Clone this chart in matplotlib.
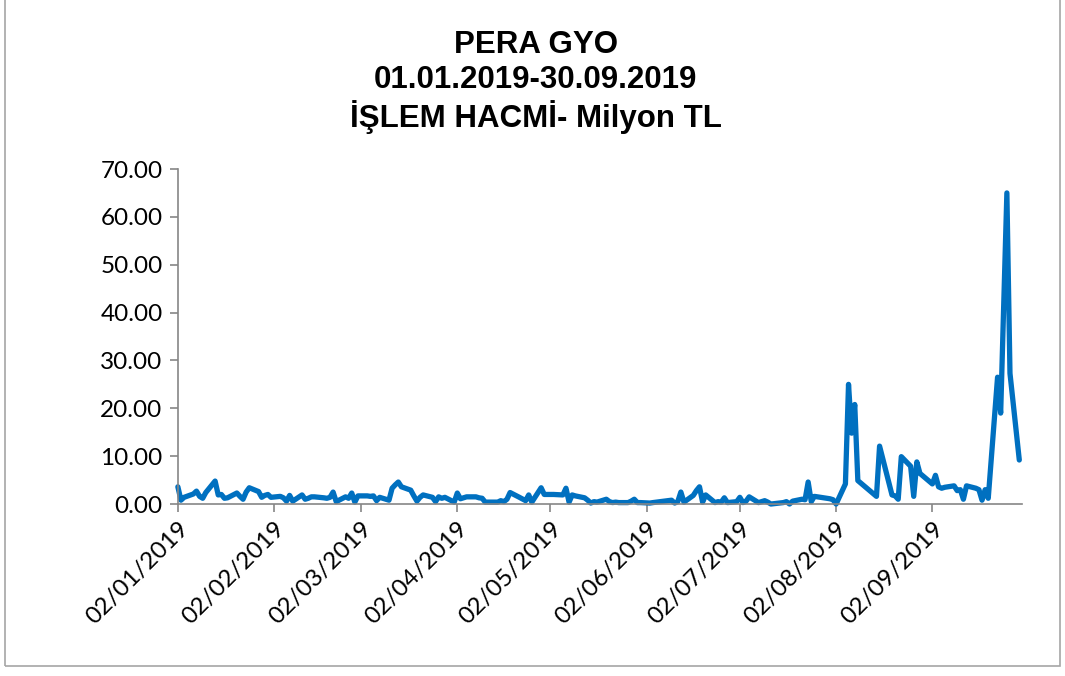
import pandas as pd
import matplotlib.pyplot as plt
import matplotlib.dates as mdates
from matplotlib.patches import Rectangle

# işlem günleri ve hacim (milyon TL)
dates = [
    "2019-01-02", "2019-01-03", "2019-01-04", "2019-01-07", "2019-01-08", "2019-01-09",
    "2019-01-10", "2019-01-11", "2019-01-14", "2019-01-15", "2019-01-16", "2019-01-17",
    "2019-01-18", "2019-01-21", "2019-01-22", "2019-01-23", "2019-01-24", "2019-01-25",
    "2019-01-28", "2019-01-29", "2019-01-30", "2019-01-31", "2019-02-01",
    "2019-02-04", "2019-02-05", "2019-02-06", "2019-02-07", "2019-02-08", "2019-02-11",
    "2019-02-12", "2019-02-13", "2019-02-14", "2019-02-15", "2019-02-18", "2019-02-19",
    "2019-02-20", "2019-02-21", "2019-02-22", "2019-02-25", "2019-02-26", "2019-02-27",
    "2019-02-28", "2019-03-01",
    "2019-03-04", "2019-03-05", "2019-03-06", "2019-03-07", "2019-03-08", "2019-03-11",
    "2019-03-12", "2019-03-13", "2019-03-14", "2019-03-15", "2019-03-18", "2019-03-19",
    "2019-03-20", "2019-03-21", "2019-03-22", "2019-03-25", "2019-03-26", "2019-03-27",
    "2019-03-28", "2019-03-29",
    "2019-04-01", "2019-04-02", "2019-04-03", "2019-04-04", "2019-04-05", "2019-04-08",
    "2019-04-09", "2019-04-10", "2019-04-11", "2019-04-12", "2019-04-15", "2019-04-16",
    "2019-04-17", "2019-04-18", "2019-04-19", "2019-04-22", "2019-04-24", "2019-04-25",
    "2019-04-26", "2019-04-29", "2019-04-30",
    "2019-05-02", "2019-05-03", "2019-05-06", "2019-05-07", "2019-05-08", "2019-05-09",
    "2019-05-10", "2019-05-13", "2019-05-14", "2019-05-15", "2019-05-16", "2019-05-17",
    "2019-05-20", "2019-05-21", "2019-05-22", "2019-05-23", "2019-05-24", "2019-05-27",
    "2019-05-28", "2019-05-29", "2019-05-30", "2019-05-31",
    "2019-06-03", "2019-06-04", "2019-06-10", "2019-06-11", "2019-06-12", "2019-06-13",
    "2019-06-14", "2019-06-17", "2019-06-18", "2019-06-19", "2019-06-20", "2019-06-21",
    "2019-06-24", "2019-06-25", "2019-06-26", "2019-06-27", "2019-06-28",
    "2019-07-01", "2019-07-02", "2019-07-03", "2019-07-04", "2019-07-05", "2019-07-08",
    "2019-07-09", "2019-07-10", "2019-07-11", "2019-07-12", "2019-07-16", "2019-07-17",
    "2019-07-18", "2019-07-19", "2019-07-22", "2019-07-23", "2019-07-24", "2019-07-25",
    "2019-07-26", "2019-07-29", "2019-07-30", "2019-07-31",
    "2019-08-01", "2019-08-02", "2019-08-05", "2019-08-06", "2019-08-07", "2019-08-08",
    "2019-08-09", "2019-08-15", "2019-08-16", "2019-08-19", "2019-08-20", "2019-08-21",
    "2019-08-22", "2019-08-23", "2019-08-26", "2019-08-27", "2019-08-28", "2019-08-29",
    "2019-09-02", "2019-09-03", "2019-09-04", "2019-09-05", "2019-09-06", "2019-09-09",
    "2019-09-10", "2019-09-11", "2019-09-12", "2019-09-13", "2019-09-16", "2019-09-17",
    "2019-09-18", "2019-09-19", "2019-09-20", "2019-09-23", "2019-09-24", "2019-09-26",
    "2019-09-27", "2019-09-30",
]
volume = [
    3.6, 0.8, 1.4, 2.1, 2.7, 1.6,
    1.2, 2.4, 4.8, 1.9, 2.0, 1.2,
    1.3, 2.3, 1.6, 1.0, 2.5, 3.4,
    2.6, 1.4, 1.8, 2.0, 1.4,
    1.6, 1.3, 0.6, 1.8, 0.6, 1.9,
    1.0, 1.2, 1.5, 1.5, 1.3, 1.2,
    1.4, 2.5, 0.5, 1.5, 1.2, 2.3,
    0.4, 1.7,
    1.7, 1.6, 1.7, 0.7, 1.4, 0.8,
    3.3, 4.0, 4.6, 3.6, 2.9, 1.7,
    0.6, 1.4, 1.9, 1.4, 0.5, 1.5,
    1.2, 1.4,
    0.4, 2.3, 1.1, 1.3, 1.5, 1.5,
    1.3, 1.2, 0.4, 0.4, 0.4, 0.7,
    0.5, 1.0, 2.4, 1.4, 0.7, 1.9,
    0.4, 3.4, 2.0,
    2.0, 2.0, 1.9, 3.3, 0.4, 1.9,
    1.7, 1.3, 0.8, 0.2, 0.5, 0.4,
    1.0, 0.5, 0.3, 0.4, 0.3, 0.3,
    0.6, 1.0, 0.3, 0.3,
    0.2, 0.3, 0.8, 0.2, 0.5, 2.5,
    0.4, 1.8, 2.8, 3.6, 0.4, 1.9,
    0.3, 0.5, 0.4, 1.3, 0.3,
    0.5, 1.4, 0.3, 0.6, 1.5, 0.3,
    0.5, 0.7, 0.4, 0.0, 0.3, 0.5,
    0.0, 0.6, 1.0, 0.9, 4.6, 0.5,
    1.6, 1.3, 1.2, 1.1,
    0.9, 0.0, 4.2, 25.0, 14.8, 20.8,
    4.9, 1.6, 12.1, 4.5, 1.9, 1.7,
    1.0, 9.9, 7.9, 1.6, 8.8, 6.4,
    4.2, 6.0, 3.6, 3.3, 3.5, 3.8,
    2.8, 3.0, 1.0, 3.8, 3.3, 3.0,
    0.8, 3.0, 1.2, 26.5, 19.0, 65.0,
    27.3, 9.2,
]
tick_dates = ["2019-01-02", "2019-02-02", "2019-03-02", "2019-04-02", "2019-05-02",
              "2019-06-02", "2019-07-02", "2019-08-02", "2019-09-02"]
title = "PERA GYO\n01.01.2019-30.09.2019\nİŞLEM HACMİ- Milyon TL"

df = pd.DataFrame({"date": pd.to_datetime(dates), "volume": volume})

fig = plt.figure(figsize=(10.65, 6.76), dpi=100)
fig.patches.append(Rectangle((0.005, 0.015), 0.99, 0.99, transform=fig.transFigure,
                             fill=False, edgecolor="#a6a6a6", linewidth=1.2))

ax = fig.add_axes([0.167, 0.2544, 0.793, 0.4956])
ax.plot(df["date"], df["volume"], color="#0070C0", linewidth=3.8,
        solid_joinstyle="round", solid_capstyle="round", clip_on=False)

ax.set_ylim(0, 70)
ax.set_yticks(range(0, 71, 10))
ax.yaxis.set_major_formatter(plt.FuncFormatter(lambda v, p: f"{v:.2f}"))
ax.set_xlim(pd.Timestamp("2019-01-02"), pd.Timestamp("2019-10-01"))
ax.set_xticks(pd.to_datetime(tick_dates))
ax.xaxis.set_major_formatter(mdates.DateFormatter("%d/%m/%Y"))

for s in ["top", "right"]:
    ax.spines[s].set_visible(False)
for s in ["left", "bottom"]:
    ax.spines[s].set_color("#868686")
    ax.spines[s].set_linewidth(1.2)
ax.tick_params(axis="both", colors="#868686", length=6, width=1.2, labelcolor="black",
               labelsize=17.5)
for lab in ax.get_yticklabels() + ax.get_xticklabels():
    lab.set_family("Lato")
plt.setp(ax.get_xticklabels(), rotation=45, ha="right", rotation_mode="anchor")
ax.tick_params(axis="y", pad=5)
ax.tick_params(axis="x", pad=4)

fig.text(0.503, 0.955, title, ha="center", va="top", fontsize=22.5, fontweight="bold",
         family="Liberation Sans", linespacing=1.2)

fig.savefig("out.png", dpi=100)
